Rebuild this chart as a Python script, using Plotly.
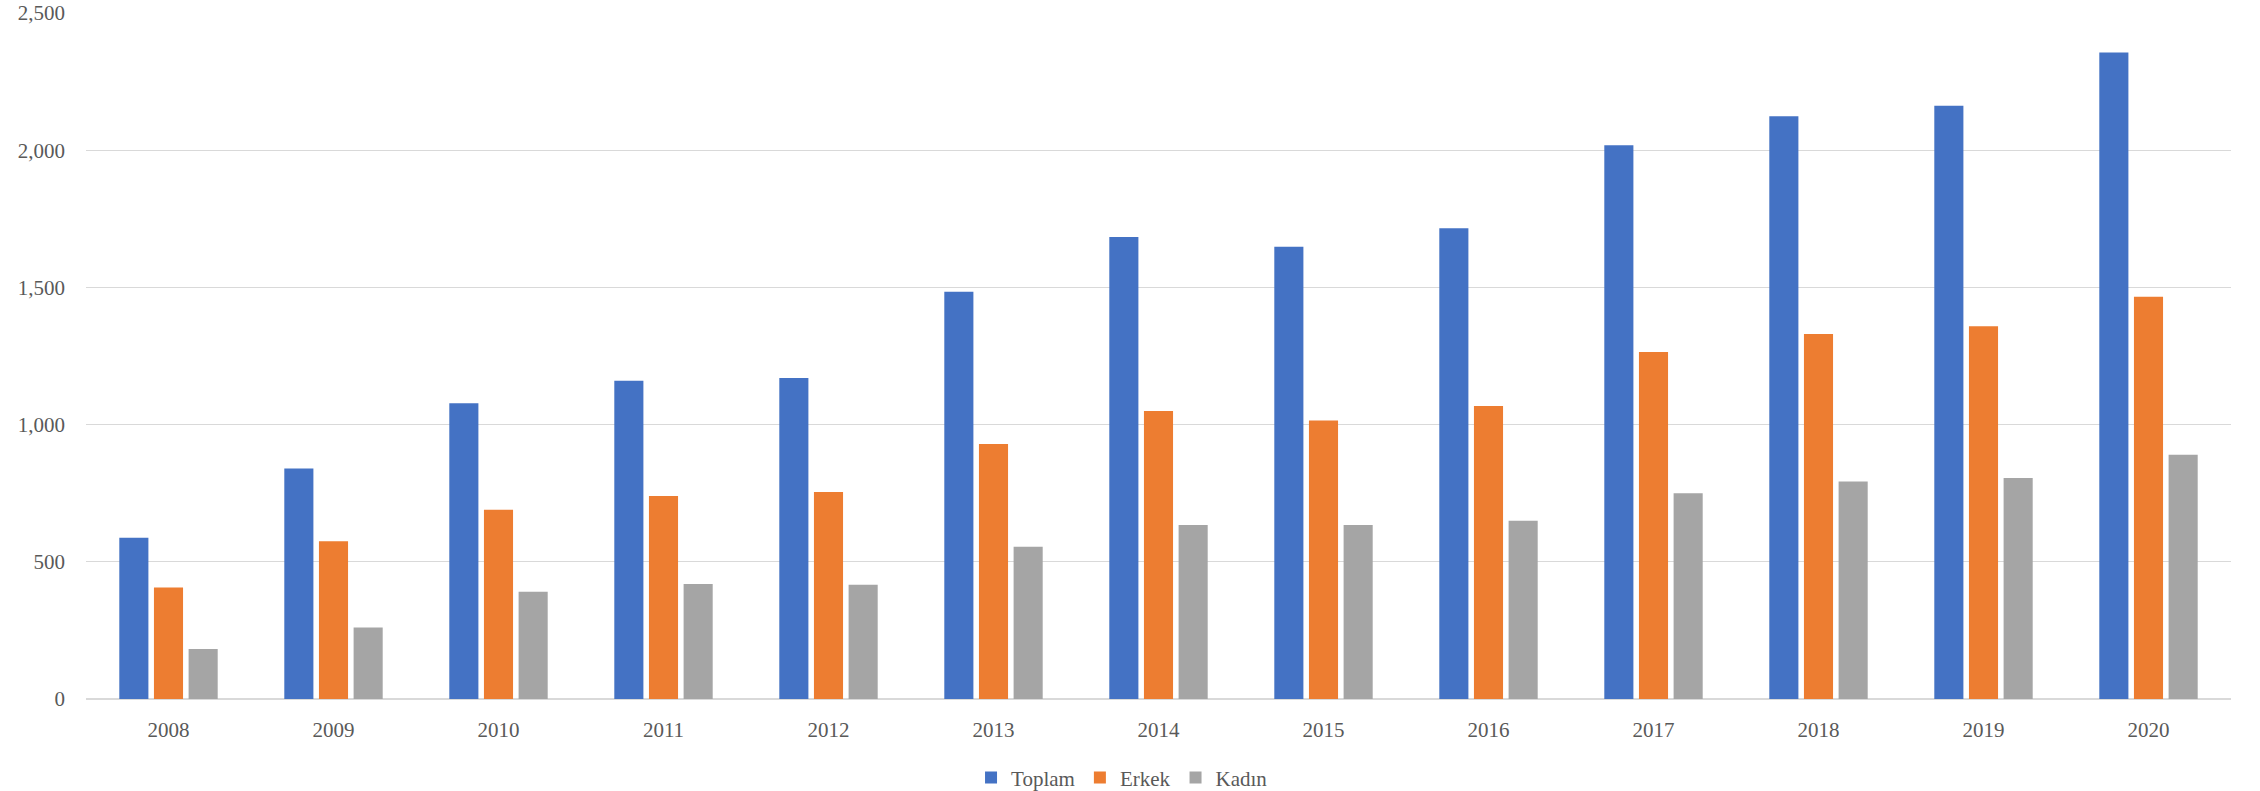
import plotly.graph_objects as go

years = ['2008', '2009', '2010', '2011', '2012', '2013', '2014',
         '2015', '2016', '2017', '2018', '2019', '2020']
toplam = [588, 840, 1078, 1160, 1170, 1484, 1684, 1648, 1716, 2018, 2124, 2162, 2356]
erkek = [406, 575, 690, 740, 754, 929, 1050, 1015, 1068, 1265, 1330, 1358, 1466]
kadin = [182, 261, 391, 419, 416, 555, 634, 634, 650, 750, 793, 805, 890]

series_names = ['Toplam', 'Erkek', 'Kadın']
colors = ['#4472C4', '#ED7D31', '#A5A5A5']

fig = go.Figure()

for name, vals, color in zip(series_names, [toplam, erkek, kadin], colors):
    fig.add_trace(go.Bar(
        x=years,
        y=vals,
        name=name,
        marker=dict(color=color, line=dict(width=0)),
    ))

# figure is a bit taller than the window so the legend box's padding
# doesn't push the plot area up; the extra strip is just below the view
fig.update_layout(
    width=2260,
    height=812,
    barmode='group',
    bargap=0.37,
    bargroupgap=0.16,
    plot_bgcolor='white',
    paper_bgcolor='white',
    font=dict(family='Liberation Serif, Times New Roman, serif', size=21, color='#595959'),
    margin=dict(l=86, r=29, t=13, b=113),
    xaxis=dict(
        type='category',
        automargin=False,
        showgrid=False,
        showline=True,
        linecolor='#d9d9d9',
        linewidth=1,
        ticks='',
        ticklabelstandoff=12,
        tickfont=dict(size=21, color='#595959'),
    ),
    yaxis=dict(
        range=[0, 2500],
        tickvals=[0, 500, 1000, 1500, 2000, 2500],
        tickformat=',',
        automargin=False,
        ticklabeloverflow='allow',
        showgrid=True,
        gridcolor='#d9d9d9',
        gridwidth=1,
        zeroline=True,
        zerolinecolor='#d9d9d9',
        showline=False,
        ticks='',
        ticklabelstandoff=20,
        tickfont=dict(size=21, color='#595959'),
    ),
    legend=dict(
        orientation='h',
        x=0.483,
        xanchor='center',
        y=-0.115,
        yanchor='middle',
        font=dict(size=21, color='#595959'),
        itemwidth=30,
    ),
)

# drop the default body margin and scrollbars so the figure sits at the page corner
fig.write_html("out.html", config={'displayModeBar': False},
               post_script="document.body.style.margin='0';"
                           "document.body.style.overflow='hidden';")
